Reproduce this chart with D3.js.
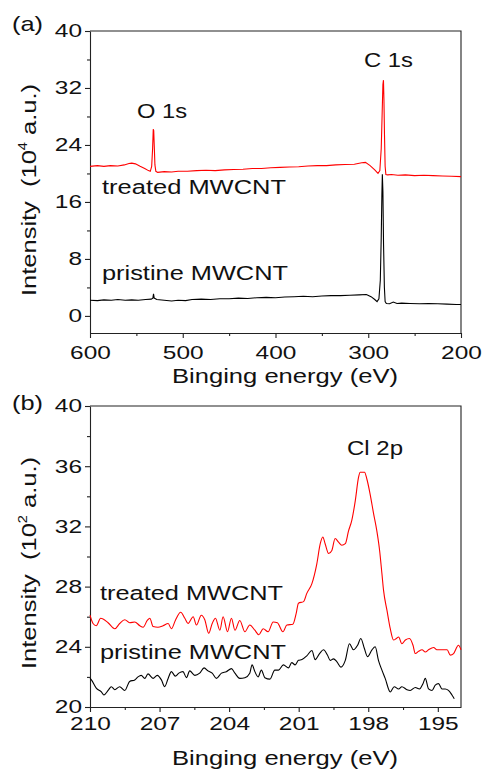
<!DOCTYPE html>
<html>
<head>
<meta charset="utf-8">
<script src="https://d3js.org/d3.v7.min.js"></script>
<style>
  body { margin: 0; background: #fff; }
  text { font-family: "Liberation Sans", Arial, sans-serif; fill: #111; }
</style>
</head>
<body>
<div id="chart"></div>
<script>
// ---- data ----
// panel (a): XPS survey, intensity in 10^4 a.u.
var surveyTicksX = [600, 500, 400, 300, 200];
var surveyMinorX = [550, 450, 350, 250];
var surveyTicksY = [0, 8, 16, 24, 32, 40];
var surveyMinorY = [4, 12, 20, 28, 36];

var treatedSurveyE = [600, 592, 585, 578, 570, 563, 558, 555, 551, 546, 541, 537, 535, 533.5, 532.5, 531.8, 531.3, 530.7, 530, 529, 527,
    520, 512, 505, 495, 485, 475, 465, 455, 445, 435, 425, 415, 405, 395, 385, 375, 365, 355, 345, 335, 325, 315, 307, 303,
    298, 293, 289.5, 287.5, 286, 285, 284.2, 283.6, 283.1, 282.5, 281.8, 281, 279, 275, 268, 260, 250, 240, 230, 220, 210, 200];
var treatedSurveyI = [21.0, 21.1, 21.0, 21.1, 21.05, 21.2, 21.4, 21.45, 21.35, 21.0, 20.7, 20.4, 20.3, 21.0, 23.5, 26.2, 26.0, 23.8, 21.2, 20.3, 20.15,
    20.25, 20.2, 20.3, 20.3, 20.4, 20.45, 20.4, 20.5, 20.55, 20.6, 20.7, 20.7, 20.8, 20.85, 20.9, 20.95, 21.05, 21.1, 21.1, 21.2, 21.25, 21.3, 21.5, 21.55,
    21.1, 20.5, 20.0, 20.4, 23.5, 28.5, 32.5, 33.1, 30.5, 25.5, 21.0, 19.85, 19.8, 19.85, 19.75, 19.8, 19.7, 19.75, 19.7, 19.65, 19.6, 19.55];

var pristineSurveyE = [600, 592, 585, 577, 570, 562, 555, 548, 540, 534, 532.2, 531.5, 530.8, 528, 520, 512, 505, 497, 490, 480, 470, 460,
    450, 440, 430, 420, 410, 400, 390, 380, 370, 360, 350, 340, 330, 320, 310, 302, 297, 293, 290.5, 288.5, 287, 286, 285.3, 284.8,
    284.2, 283.5, 282.6, 281.8, 280.5, 277, 273, 269, 264, 255, 245, 235, 225, 215, 205, 200];
var pristineSurveyI = [2.2, 2.15, 2.25, 2.2, 2.3, 2.2, 2.25, 2.2, 2.3, 2.35, 2.5, 3.1, 2.5, 2.3, 2.2, 2.1, 2.2, 2.15, 2.3, 2.35, 2.3, 2.4,
    2.4, 2.5, 2.45, 2.55, 2.6, 2.55, 2.65, 2.7, 2.75, 2.7, 2.8, 2.85, 2.85, 2.9, 2.95, 3.0, 2.7, 2.3, 2.0, 2.4, 5.0, 11.0, 17.0, 19.9,
    17.5, 10.0, 4.0, 2.0, 1.75, 1.7, 1.95, 1.75, 1.8, 1.75, 1.7, 1.75, 1.7, 1.65, 1.6, 1.6];

// panel (b): Cl 2p region, intensity in 10^2 a.u.
var clTicksX = [210, 207, 204, 201, 198, 195];
var clMinorX = [208.5, 205.5, 202.5, 199.5, 196.5];
var clTicksY = [20, 24, 28, 32, 36, 40];
var clMinorY = [22, 26, 30, 34, 38];

var treatedClE = [210.0, 209.87, 209.73, 209.54, 209.22, 208.93, 208.72, 208.5, 208.29, 208.07, 207.85, 207.71, 207.53, 207.42, 207.28,
    207.07, 206.85, 206.63, 206.49, 206.32, 206.09, 205.91, 205.77, 205.55, 205.41, 205.2, 205.05, 204.88, 204.73, 204.59, 204.4,
    204.26, 204.07, 203.9, 203.75, 203.54, 203.32, 203.11, 202.89, 202.72, 202.53, 202.32, 202.1, 201.92, 201.68, 201.51, 201.25,
    201.11, 201.01, 200.79, 200.65, 200.43, 200.22, 200.07, 199.96, 199.86, 199.71, 199.57, 199.43, 199.28, 199.14, 198.99, 198.85,
    198.71, 198.56, 198.42, 198.35, 198.16, 198.06, 197.92, 197.77, 197.63, 197.51, 197.41, 197.34, 197.19, 197.05, 196.91, 196.79,
    196.69, 196.55, 196.4, 196.22, 196.07, 195.97, 195.83, 195.68, 195.54, 195.4, 195.18, 195.04, 194.82, 194.6, 194.46, 194.32,
    194.11, 194.0];
var treatedClI = [26.1, 25.55, 25.4, 25.9, 25.6, 25.2, 25.55, 25.8, 25.6, 25.65, 25.4, 25.3, 25.75, 25.9, 25.35,
    25.3, 25.4, 25.55, 25.2, 25.75, 26.3, 25.9, 25.55, 26.0, 25.45, 26.1, 25.8, 24.9, 25.55, 25.9, 25.1,
    26.0, 25.0, 25.9, 25.1, 25.75, 25.0, 25.45, 25.1, 24.8, 25.2, 25.0, 25.65, 25.6, 25.0, 25.45, 25.5,
    26.2, 26.9, 27.0, 27.55, 28.2, 29.5, 30.85, 31.3, 30.85, 30.2, 30.4, 31.2, 30.95, 30.75, 30.85, 31.7,
    32.4, 33.7, 35.25, 35.6, 35.6, 35.15, 34.15, 32.85, 31.7, 30.4, 28.85, 27.75, 26.4, 25.2, 24.45, 24.55,
    24.65, 24.2, 24.45, 24.55, 24.1, 23.55, 23.7, 23.8, 23.65, 23.8, 23.95, 23.8, 23.8, 23.8, 23.45, 23.55,
    24.1, 23.8];

var pristineClE = [210.0, 209.94, 209.73, 209.51, 209.4, 209.22, 209.08, 208.93, 208.72, 208.5, 208.29, 208.07, 207.93, 207.79, 207.64,
    207.5, 207.28, 207.1, 206.92, 206.78, 206.63, 206.49, 206.32, 206.17, 205.99, 205.84, 205.7, 205.48, 205.27, 205.08, 204.91,
    204.73, 204.55, 204.33, 204.12, 203.9, 203.75, 203.54, 203.32, 203.11, 203.01, 202.89, 202.75, 202.61, 202.46, 202.24, 202.03,
    201.87, 201.66, 201.44, 201.3, 201.15, 201.01, 200.86, 200.65, 200.43, 200.29, 200.1, 199.93, 199.76, 199.64, 199.5, 199.35,
    199.18, 198.99, 198.81, 198.64, 198.46, 198.32, 198.17, 198.03, 197.84, 197.7, 197.56, 197.41, 197.27, 197.05, 196.88, 196.69,
    196.55, 196.33, 196.19, 195.97, 195.79, 195.64, 195.54, 195.4, 195.25, 195.11, 194.97, 194.82, 194.68, 194.54, 194.39, 194.29];
var pristineClI = [21.9, 21.8, 21.25, 21.0, 20.8, 21.1, 21.35, 21.15, 21.35, 21.1, 21.7, 21.8, 22.0, 22.1, 21.9,
    22.2, 21.9, 22.1, 21.8, 21.35, 21.9, 22.35, 22.05, 22.25, 22.35, 21.95, 22.4, 22.1, 22.25, 22.6, 22.4,
    22.25, 21.9, 22.25, 22.35, 22.55, 22.25, 21.9, 21.95, 22.25, 22.8, 22.35, 22.0, 22.45, 21.95, 21.85, 22.45,
    22.45, 22.8, 22.6, 22.95, 22.8, 23.1, 23.15, 23.4, 23.75, 23.15, 23.55, 23.8, 23.45, 23.1, 23.2, 23.0,
    22.65, 23.1, 24.2, 23.8, 24.1, 24.55, 23.9, 23.35, 23.8, 24.0, 23.1, 22.45, 21.9, 21.0, 21.35, 21.2,
    21.35, 21.15, 21.1, 21.3, 21.2, 21.55, 21.9, 21.2, 21.1, 21.45, 21.55, 21.2, 21.2, 21.1, 20.8, 20.55];

// ---- canvas ----
var svg = d3.select("#chart")
    .append("svg")
    .attr("width", 486)
    .attr("height", 772);

// zip two arrays into points
function zip(xs, ys) {
    return xs.map(function(x, i) { return [x, ys[i]]; });
}

function addText(x, y, str, size, width, anchor) {
    return svg.append("text")
        .attr("x", x)
        .attr("y", y)
        .attr("font-size", size + "px")
        .attr("text-anchor", anchor || "start")
        .attr("textLength", width)
        .attr("lengthAdjust", "spacingAndGlyphs")
        .text(str);
}

// draw one panel: frame, axes, ticks, curves
function drawPanel(opt) {
    var x = d3.scaleLinear().domain(opt.xDomain).range([90, 461]);
    var y = d3.scaleLinear().domain(opt.yDomain).range([opt.bottom, opt.top]);
    var g = svg.append("g");

    // frame top + right
    g.append("path")
        .attr("d", "M" + x.range()[0] + "," + opt.top + "H" + x.range()[1] + "V" + opt.bottom)
        .attr("fill", "none")
        .attr("stroke", "#222")
        .attr("stroke-width", 1.1);

    // x axis, major + minor
    var xAxis = g.append("g")
        .attr("transform", "translate(0," + opt.bottom + ")")
        .call(d3.axisBottom(x).tickValues(opt.ticksX).tickSize(5).tickPadding(opt.xPad).tickSizeOuter(0));
    g.append("g")
        .attr("transform", "translate(0," + opt.bottom + ")")
        .call(d3.axisBottom(x).tickValues(opt.minorX).tickSize(3).tickFormat("").tickSizeOuter(0))
        .select(".domain").remove();

    // y axis, major + minor
    var yAxis = g.append("g")
        .attr("transform", "translate(90,0)")
        .call(d3.axisLeft(y).tickValues(opt.ticksY).tickSize(5).tickPadding(3).tickSizeOuter(0));
    g.append("g")
        .attr("transform", "translate(90,0)")
        .call(d3.axisLeft(y).tickValues(opt.minorY).tickSize(3).tickFormat("").tickSizeOuter(0))
        .select(".domain").remove();

    g.selectAll(".domain, .tick line")
        .attr("stroke", "#222")
        .attr("stroke-width", 1.1);
    g.selectAll(".tick text")
        .attr("font-family", "'Liberation Sans', Arial, sans-serif")
        .attr("font-size", "18.5px")
        .attr("fill", "#111")
        .attr("lengthAdjust", "spacingAndGlyphs")
        .attr("textLength", function(d) { return String(d).length * 13.6; });

    // curves
    var line = d3.line()
        .x(function(d) { return x(d[0]); })
        .y(function(d) { return y(d[1]); })
        .curve(opt.curve);

    opt.series.forEach(function(s) {
        g.append("path")
            .datum(s.points)
            .attr("fill", "none")
            .attr("stroke", s.color)
            .attr("stroke-width", 1.1)
            .attr("d", line);
    });
}

// panel (a)
drawPanel({
    xDomain: [600, 200],
    yDomain: [-2.4, 40],
    top: 31,
    bottom: 333,
    xPad: 8,
    ticksX: surveyTicksX,
    minorX: surveyMinorX,
    ticksY: surveyTicksY,
    minorY: surveyMinorY,
    curve: d3.curveLinear,
    series: [
        { points: zip(pristineSurveyE, pristineSurveyI), color: "#000" },
        { points: zip(treatedSurveyE, treatedSurveyI), color: "#ff0000" }
    ]
});

// panel (b)
drawPanel({
    xDomain: [210, 194],
    yDomain: [20, 40],
    top: 406,
    bottom: 707,
    xPad: 5,
    ticksX: clTicksX,
    minorX: clMinorX,
    ticksY: clTicksY,
    minorY: clMinorY,
    curve: d3.curveMonotoneX,
    series: [
        { points: zip(pristineClE, pristineClI), color: "#000" },
        { points: zip(treatedClE, treatedClI), color: "#ff0000" }
    ]
});

// panel letters
addText(12, 31, "(a)", 21, 31);
addText(12, 410, "(b)", 21, 31);

// peak and sample labels
addText(137, 118, "O 1s", 20.5, 50);
addText(364, 67, "C 1s", 20.5, 49);
addText(102, 194, "treated MWCNT", 20.5, 184);
addText(102, 280, "pristine MWCNT", 20.5, 186);
addText(347, 455, "Cl 2p", 20.5, 56);
addText(100, 600, "treated MWCNT", 20.5, 183);
addText(100, 659, "pristine MWCNT", 20.5, 186);

// x axis titles
addText(172, 383, "Binging energy (eV)", 21, 226);
addText(172, 765, "Binging energy (eV)", 21, 226);

// y axis titles, rotated with superscript
function yTitle(cx, cy, sup) {
    var t = svg.append("text")
        .attr("transform", "translate(" + cx + "," + cy + ") rotate(-90)")
        .attr("text-anchor", "middle")
        .attr("font-size", "21px")
        .attr("textLength", 212)
        .attr("lengthAdjust", "spacingAndGlyphs");
    t.append("tspan").text("Intensity\u00a0\u00a0(10");
    t.append("tspan").attr("font-size", "12px").attr("dy", -9).text(sup);
    t.append("tspan").attr("dy", 9).text("\u00a0a.u.)");
}
yTitle(36, 190, "4");
yTitle(36, 563, "2");
</script>
</body>
</html>
